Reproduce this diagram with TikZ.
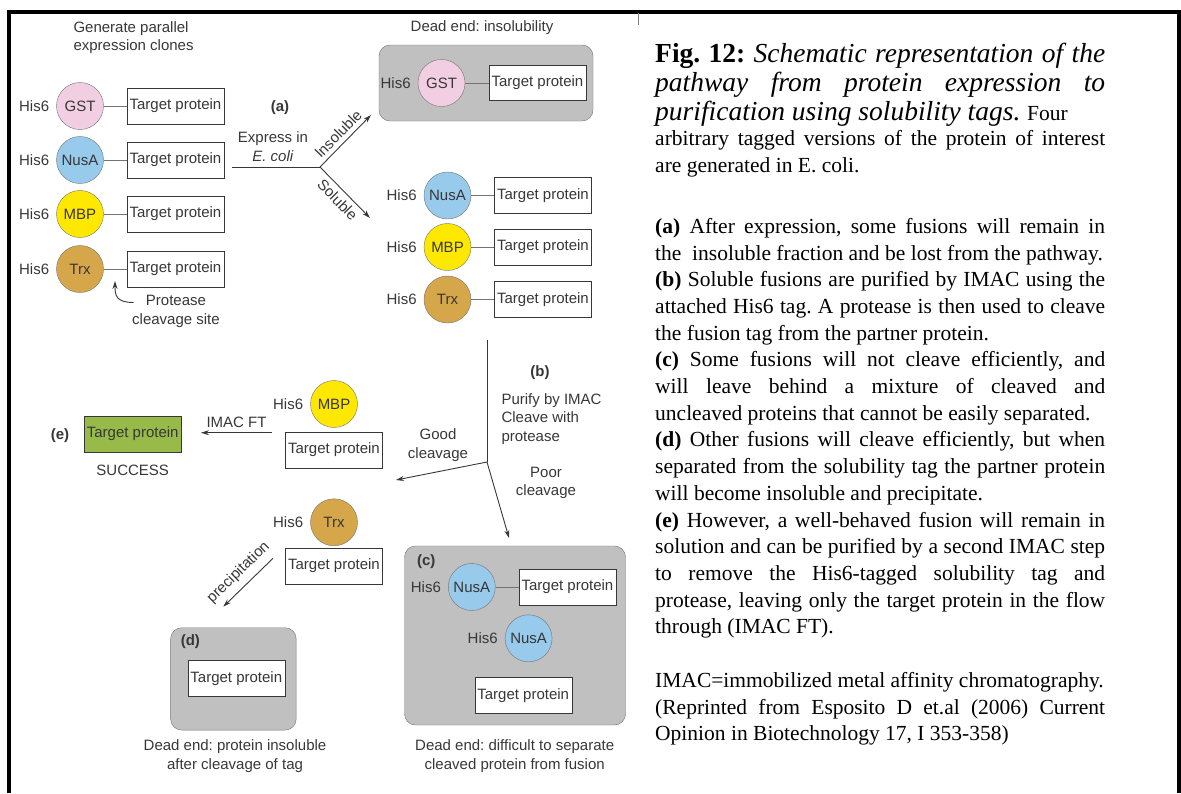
\documentclass[tikz,border=0pt]{standalone}
\usepackage{fontspec}
\setmainfont{Liberation Serif}
\newfontfamily\diagfont{Liberation Sans}
\usetikzlibrary{arrows.meta,positioning}
\frenchspacing

\definecolor{ink}{RGB}{55,55,55}
\definecolor{ringgray}{RGB}{115,115,115}
\definecolor{deadgray}{RGB}{192,192,192}
\definecolor{gstpink}{RGB}{242,206,226}
\definecolor{nusablue}{RGB}{152,202,236}
\definecolor{mbpyellow}{RGB}{255,232,0}
\definecolor{trxgold}{RGB}{214,166,74}
\definecolor{successgreen}{RGB}{152,186,72}

\begin{document}
\begin{tikzpicture}[x=1pt,y=-1pt,
    every node/.style={font=\diagfont\fontsize{15}{18.5}\selectfont,text=ink},
    partlabel/.style={font=\diagfont\fontsize{15}{18.5}\selectfont\bfseries},
    tagball/.style={circle,draw=ringgray,minimum size=47pt,inner sep=0pt},
    protbox/.style={rectangle,draw=ink,fill=white,minimum width=97pt,minimum height=36pt,inner sep=1pt},
    deadend/.style={rectangle,rounded corners=11pt,draw=ringgray,fill=deadgray,inner sep=0pt},
    hislabel/.style={inner sep=1pt},
    linker/.style={draw=ringgray,line width=0.9pt},
    flowline/.style={draw=ink,line width=0.9pt},
    flowarrow/.style={flowline,-{Stealth[length=8pt,width=5pt]}},
    captext/.style={font=\fontsize{21.5}{26.7}\selectfont,text=black,text width=450pt,
      align=justify,inner sep=0pt,anchor=north west}]
  \useasboundingbox (0,0) rectangle (1181,793);

  % frame
  \draw[line width=4pt] (9,793) -- (9,11.5) -- (1179,11.5) -- (1179,793);
  \draw[gray,line width=0.6pt] (638,13) -- (638,25);

  % Parallel expression clones
  \node[anchor=west,align=left] (generate) at (70,37.5) {Generate parallel\\expression clones};
  \foreach \tagname/\tagcol/\y in {GST/gstpink/106,NusA/nusablue/160,MBP/mbpyellow/214,Trx/trxgold/269}{
    \node[tagball,fill=\tagcol] (ball\tagname) at (80,\y) {\tagname};
    \node[hislabel,left=6pt of ball\tagname] (his\tagname) {His6};
    \node[protbox] (box\tagname) at (175.5,\y) {Target protein};
    \draw[linker] (ball\tagname) -- (box\tagname);
  }
  \node[align=center] (protease) at (176,311.5) {Protease\\cleavage site};
  \coordinate (cleavesite) at (115,281);
  \draw[flowarrow] ([xshift=5pt,yshift=9pt]protease.west) .. controls +(-18,0) and +(0,14) .. (cleavesite);

  % (a) Expression
  \node[partlabel] (parta) at (280,108) {(a)};
  \node[align=center] (express) at (273,146.5) {Express in\\\textit{E. coli}};
  \coordinate (exprstart) at (232,167);
  \coordinate (asplit) at (320,167);
  \coordinate (insolend) at (371,115);
  \coordinate (solend) at (370,218);
  \draw[flowline] (exprstart) -- (asplit);
  \draw[flowarrow] (asplit) -- node[sloped,above=1pt] (insollabel) {Insoluble} (insolend);
  \draw[flowarrow] (asplit) -- node[sloped,below=1pt] (sollabel) {Soluble} (solend);

  % Dead end: insolubility
  \node (deadinsoltext) at (482,28) {Dead end: insolubility};
  \node[deadend,minimum width=214pt,minimum height=76pt] (deadinsol) at (486,83) {};
  \node[tagball,fill=gstpink] (ballGSTins) at (441.5,83) {GST};
  \node[hislabel,left=6pt of ballGSTins] (hisGSTins) {His6};
  \node[protbox,minimum height=35pt] (boxGSTins) at (537.5,83) {Target protein};
  \draw[linker] (ballGSTins) -- (boxGSTins);

  % Soluble fusions
  \foreach \tagname/\tagcol/\y in {NusA/nusablue/195.5,MBP/mbpyellow/247,Trx/trxgold/299.5}{
    \node[tagball,fill=\tagcol] (ball\tagname sol) at (447.5,\y) {\tagname};
    \node[hislabel,left=6pt of ball\tagname sol] (his\tagname sol) {His6};
    \node[protbox] (box\tagname sol) at (543,\y) {Target protein};
    \draw[linker] (ball\tagname sol) -- (box\tagname sol);
  }

  % (b) Purify and cleave
  \coordinate (btop) at (487,340);
  \coordinate (bsplit) at (487,462);
  \coordinate (goodend) at (396,480);
  \coordinate (poorend) at (509,538);
  \draw[flowline] (btop) -- (bsplit);
  \draw[flowarrow] (bsplit) -- (goodend);
  \draw[flowarrow] (bsplit) -- (poorend);
  \node[partlabel] (partb) at (540,373) {(b)};
  \node[anchor=west,align=left] (purify) at (498,419) {Purify by IMAC\\Cleave with\\protease};
  \node[align=center] (goodlabel) at (438,445) {Good\\cleavage};
  \node[align=center] (poorlabel) at (546,483) {Poor\\cleavage};

  % (e) Good cleavage, soluble
  \node[tagball,fill=mbpyellow] (ballMBPfree) at (334,404) {MBP};
  \node[hislabel,left=6pt of ballMBPfree] (hisMBPfree) {His6};
  \node[protbox] (boxMBPfree) at (334,450) {Target protein};
  \coordinate (ftstart) at (272,432.7);
  \coordinate (ftend) at (201,432.7);
  \draw[flowarrow] (ftstart) -- node[above=1pt] (ftlabel) {IMAC FT} (ftend);
  \node[protbox,fill=successgreen] (boxsuccess) at (132.7,434) {Target protein};
  \node[partlabel] (parte) at (60,436) {(e)};
  \node (success) at (132.7,470) {SUCCESS};

  % (d) Good cleavage, precipitation
  \node[tagball,fill=trxgold] (ballTrxfree) at (334,522.3) {Trx};
  \node[hislabel,left=6pt of ballTrxfree] (hisTrxfree) {His6};
  \node[protbox] (boxTrxfree) at (334,566) {Target protein};
  \coordinate (precipstart) at (273,558.3);
  \coordinate (precipend) at (223.3,606.7);
  \draw[flowarrow] (precipstart) -- node[sloped,above=3pt] (preciplabel) {precipitation} (precipend);
  \node[deadend,minimum width=125.5pt,minimum height=102.3pt] (deadprecip) at (233.4,678.9) {};
  \node[partlabel] (partd) at (190.4,641.7) {(d)};
  \node[protbox] (boxprecip) at (236.3,678.3) {Target protein};
  \node[align=center] (deadpreciptext) at (235,756) {Dead end: protein insoluble\\after cleavage of tag};

  % (c) Poor cleavage
  \node[deadend,minimum width=221pt,minimum height=179pt] (deadmix) at (515,635.5) {};
  \node[partlabel] (partc) at (426.3,561.7) {(c)};
  \node[tagball,fill=nusablue] (ballNusAfused) at (471.8,587) {NusA};
  \node[hislabel,left=6pt of ballNusAfused] (hisNusAfused) {His6};
  \node[protbox] (boxNusAfused) at (567.5,587) {Target protein};
  \draw[linker] (ballNusAfused) -- (boxNusAfused);
  \node[tagball,fill=nusablue] (ballNusAfree) at (528.6,638.3) {NusA};
  \node[hislabel,left=6pt of ballNusAfree] (hisNusAfree) {His6};
  \node[protbox] (boxmixfree) at (523.2,695.5) {Target protein};
  \node[align=center] (deadmixtext) at (514.7,756) {Dead end: difficult to separate\\cleaved protein from fusion};

  % caption text
  \node[captext,font=\fontsize{27.5}{29}\selectfont] (figtitle) at (655,43)
    {\tolerance=10000\parfillskip=0pt \textbf{Fig. 12:} \textit{Schematic representation of the\linebreak
     pathway from protein expression to\linebreak
     purification using solubility tags.} {\fontsize{21.5}{26.7}\selectfont Four}};
  \node[captext] (figintro) at (655,130.3)
    {\tolerance=10000 arbitrary tagged versions of the protein of interest\linebreak
     are generated in E. coli.};
  \node[captext] (figsteps) at (655,218)
    {\tolerance=10000\hyphenpenalty=10000
     \textbf{(a)} After expression, some fusions will remain in\linebreak
     the\ \ insoluble fraction and be lost from the pathway.\par
     \textbf{(b)} Soluble fusions are purified by IMAC using the\linebreak
     attached His6 tag. A protease is then used to cleave\linebreak
     the fusion tag from the partner protein.\par
     \textbf{(c)} Some fusions will not cleave efficiently, and\linebreak
     will leave behind a mixture of cleaved and\linebreak
     uncleaved proteins that cannot be easily separated.\par
     \textbf{(d)} Other fusions will cleave efficiently, but when\linebreak
     separated from the solubility tag the partner protein\linebreak
     will become insoluble and precipitate.\par
     \textbf{(e)} However, a well-behaved fusion will remain in\linebreak
     solution and can be purified by a second IMAC step\linebreak
     to remove the His6-tagged solubility tag and\linebreak
     protease, leaving only the target protein in the flow\linebreak
     through (IMAC FT).};
  \node[captext] (figsource) at (655,672)
    {\tolerance=10000 IMAC=immobilized metal affinity chromatography.\\
     (Reprinted from Esposito D et.al (2006) Current\linebreak
     Opinion in Biotechnology 17, I 353-358)};
\end{tikzpicture}
\end{document}
